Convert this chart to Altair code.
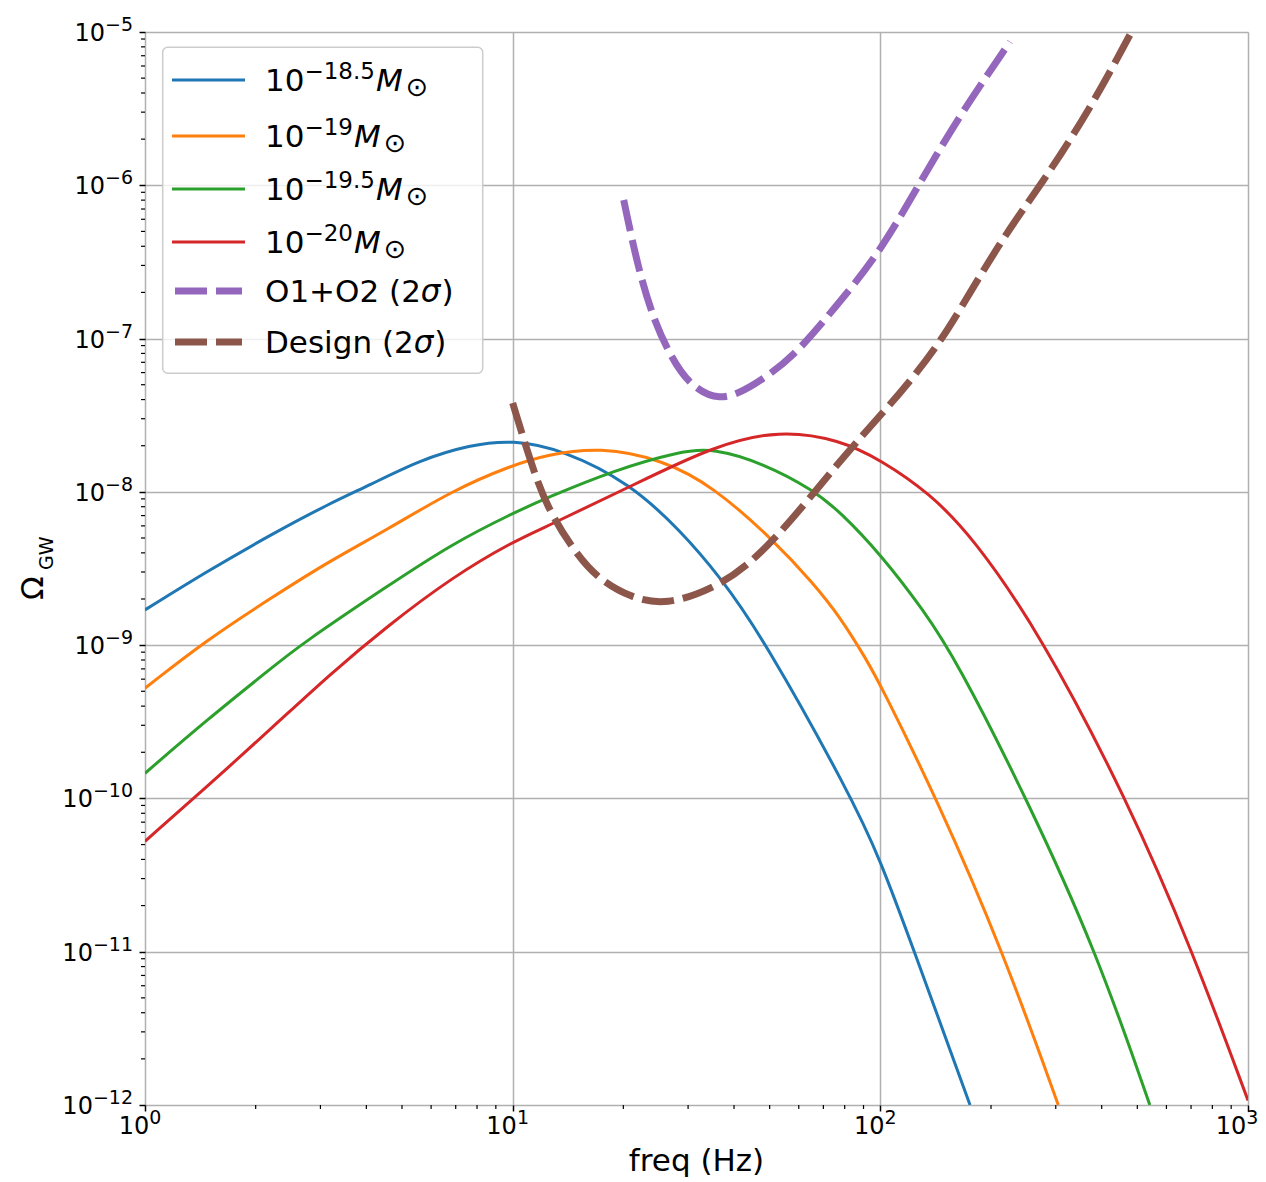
import altair as alt
import numpy as np
import pandas as pd

FONT = "DejaVu Sans"

# ---- data (log10 of frequency [Hz], log10 of Omega_GW) ----
blue_logf = [0.0, 0.168, 0.349, 0.503, 0.612, 0.748, 0.884, 1.0, 1.138, 1.319, 1.455, 1.564, 1.682, 1.917, 2.0, 2.085, 2.244]
blue_logO = [-8.77, -8.52, -8.27, -8.075, -7.955, -7.792, -7.694, -7.66, -7.727, -7.944, -8.249, -8.553, -8.955, -9.97, -10.40, -10.95, -12.0]

orange_logf = [0.0, 0.168, 0.349, 0.503, 0.657, 0.838, 1.0, 1.092, 1.237, 1.410, 1.546, 1.709, 1.818, 1.890, 1.963, 2.0, 2.153, 2.334, 2.484]
orange_logO = [-9.281, -8.966, -8.683, -8.45, -8.249, -7.988, -7.825, -7.759, -7.706, -7.792, -7.966, -8.314, -8.597, -8.814, -9.097, -9.257, -10.0, -11.0, -12.0]

green_logf = [0.0, 0.168, 0.349, 0.422, 0.657, 0.838, 1.0, 1.092, 1.274, 1.455, 1.546, 1.682, 1.818, 1.890, 2.0, 2.117, 2.207, 2.398, 2.588, 2.733]
green_logO = [-9.836, -9.488, -9.140, -8.999, -8.618, -8.335, -8.14, -8.04, -7.86, -7.735, -7.715, -7.814, -7.988, -8.130, -8.405, -8.77, -9.10, -10.0, -11.0, -12.0]

red_logf = [0.0, 0.168, 0.349, 0.503, 0.657, 0.838, 1.0, 1.092, 1.319, 1.546, 1.727, 1.890, 2.0, 2.135, 2.253, 2.434, 2.670, 2.850, 3.0]
red_logO = [-10.28, -9.923, -9.532, -9.19, -8.879, -8.553, -8.325, -8.227, -7.966, -7.700, -7.595, -7.661, -7.790, -8.01, -8.30, -8.923, -10.0, -11.0, -11.97]

o1o2_logf = [1.302, 1.342, 1.387, 1.431, 1.476, 1.560, 1.655, 1.766, 1.878, 1.991, 2.102, 2.213, 2.353]
o1o2_logO = [-6.096, -6.553, -6.900, -7.118, -7.290, -7.42, -7.31, -7.118, -6.792, -6.466, -6.009, -5.553, -5.063]

design_logf = [1.0, 1.047, 1.092, 1.165, 1.228, 1.319, 1.419, 1.546, 1.636, 1.727, 1.818, 1.908, 2.0, 2.071, 2.170, 2.236, 2.348, 2.436, 2.569, 2.683]
design_logO = [-7.42, -7.792, -8.097, -8.379, -8.56, -8.69, -8.74, -8.63, -8.488, -8.271, -8.010, -7.749, -7.50, -7.31, -7.0, -6.73, -6.29, -6.0, -5.51, -5.0]

series_colors = ["#1f77b4", "#ff7f0e", "#2ca02c", "#d62728", "#9467bd", "#8c564b"]
mass_exponents = ["\u221218.5", "\u221219", "\u221219.5", "\u221220"]
dashed_labels = [("O1+O2 (2", "\u03c3", ")"), ("Design (2", "\u03c3", ")")]

x_major = [1, 10, 100, 1000]
x_exp_labels = ["0", "1", "2", "3"]
y_major_exp = [-5, -6, -7, -8, -9, -10, -11, -12]

# ---- layout ----
W, H = 1103, 1073
XS = alt.Scale(type="log", domain=[1, 1000], nice=False)
YS = alt.Scale(type="log", domain=[1e-12, 1e-5], nice=False)
AX_X = alt.Axis(values=x_major, labels=False, title=None, domain=False, ticks=True,
                tickSize=6, tickWidth=1.5, tickColor="black",
                grid=True, gridColor="#b0b0b0", gridWidth=1.5)
AX_Y = alt.Axis(values=[10.0 ** e for e in y_major_exp], labels=False, title=None, domain=False,
                ticks=True, tickSize=6, tickWidth=1.5, tickColor="black",
                grid=True, gridColor="#b0b0b0", gridWidth=1.5)

# DejaVu Sans advance widths (em)
ADV = {"\u2212": 0.838, ".": 0.318, "O": 0.787, "+": 0.838, " ": 0.318, "(": 0.390, ")": 0.390,
       "D": 0.770, "e": 0.615, "s": 0.521, "i": 0.278, "g": 0.635, "n": 0.634}


def text_width(s, fs):
    return sum(ADV.get(ch, 0.636) for ch in s) * fs


def X(field="freq"):
    return alt.X(f"{field}:Q", scale=XS, axis=AX_X)


def Y(field="omega"):
    return alt.Y(f"{field}:Q", scale=YS, axis=AX_Y)


def curve(logf, logO, color, dashed=False):
    df = pd.DataFrame({"freq": 10.0 ** np.array(logf), "omega": 10.0 ** np.array(logO)})
    if dashed:
        m = alt.Chart(df).mark_line(interpolate="basis", color=color, strokeWidth=7,
                                    strokeDash=[32, 9], strokeCap="butt", clip=True)
    else:
        m = alt.Chart(df).mark_line(interpolate="basis", color=color, strokeWidth=3,
                                    strokeJoin="round", clip=True)
    return m.encode(x=X(), y=Y())


def one(t=""):
    return pd.DataFrame({"t": [t]})


def text_at(t, x, y, size, align="left", baseline="alphabetic", style="normal", angle=0):
    return alt.Chart(one(t)).mark_text(
        align=align, baseline=baseline, fontSize=size, font=FONT, fontStyle=style,
        angle=angle, color="black").encode(x=alt.value(x), y=alt.value(y), text="t:N")


layers = []
all_curves = [(blue_logf, blue_logO), (orange_logf, orange_logO), (green_logf, green_logO),
              (red_logf, red_logO)]
for (lf, lo), c in zip(all_curves, series_colors[:4]):
    layers.append(curve(lf, lo, c))
layers.append(curve(o1o2_logf, o1o2_logO, series_colors[4], dashed=True))
layers.append(curve(design_logf, design_logO, series_colors[5], dashed=True))

# minor ticks
y_minor = [k * 10.0 ** e for e in range(-12, -5) for k in range(2, 10)]
x_minor = [k * 10.0 ** e for e in range(0, 3) for k in range(2, 10)]
layers.append(alt.Chart(pd.DataFrame({"omega": y_minor})).mark_rule(color="black", strokeWidth=1.2)
              .encode(y=Y(), x=alt.value(-4), x2=alt.value(0)))
layers.append(alt.Chart(pd.DataFrame({"freq": x_minor})).mark_rule(color="black", strokeWidth=1.2)
              .encode(x=X(), y=alt.value(H), y2=alt.value(H + 4)))

# y tick labels: "10" + superscript exponent
TICK_FS, SUP_FS = 24, 19
for group in ([e for e in y_major_exp if e > -10], [e for e in y_major_exp if e <= -10]):
    labs = ["\u2212" + str(-e) for e in group]
    df = pd.DataFrame({"omega": [10.0 ** e for e in group], "exp": labs})
    wexp = text_width(labs[0], SUP_FS)
    layers.append(alt.Chart(df).mark_text(align="right", baseline="alphabetic", dy=9,
                                          fontSize=TICK_FS, font=FONT, color="black")
                  .encode(y=Y(), x=alt.value(-12 - wexp), text=alt.value("10")))
    layers.append(alt.Chart(df).mark_text(align="right", baseline="alphabetic", dy=-1,
                                          fontSize=SUP_FS, font=FONT, color="black")
                  .encode(y=Y(), x=alt.value(-12), text="exp:N"))

# x tick labels (the last one nudged left so it stays inside the page)
w10 = 1.272 * TICK_FS
wtot = w10 + text_width("0", SUP_FS)
for sl, extra in ((slice(0, 3), 0), (slice(3, 4), -6)):
    dfx = pd.DataFrame({"freq": x_major[sl], "exp": x_exp_labels[sl]})
    shift = w10 - wtot / 2 - 5 + extra
    layers.append(alt.Chart(dfx).mark_text(align="right", baseline="alphabetic", dx=shift,
                                           fontSize=TICK_FS, font=FONT, color="black")
                  .encode(x=X(), y=alt.value(H + 28.5), text=alt.value("10")))
    layers.append(alt.Chart(dfx).mark_text(align="left", baseline="alphabetic", dx=shift,
                                           fontSize=SUP_FS, font=FONT, color="black")
                  .encode(x=X(), y=alt.value(H + 18.5), text="exp:N"))

# axis titles
layers.append(text_at("freq (Hz)", W / 2, H + 66, 31, align="center"))
layers.append(text_at("\u03a9", -102, 568, 31, angle=270))
layers.append(text_at("GW", -92, 538, 19, angle=270))

# legend
layers.append(alt.Chart(one()).mark_rect(cornerRadius=5, fill="white", fillOpacity=0.8,
                                         stroke="#cccccc", strokeWidth=1.5)
              .encode(x=alt.value(17.7), x2=alt.value(337.7), y=alt.value(15.3), y2=alt.value(341.3)))
row_y = [48, 104, 157, 210, 259, 310]
LEG_FS, LEG_SUP = 31, 23
TX = 120
for i in range(6):
    yy = row_y[i]
    base = yy + 11
    if i < 4:
        layers.append(alt.Chart(one()).mark_rule(color=series_colors[i], strokeWidth=3)
                      .encode(x=alt.value(27), x2=alt.value(100), y=alt.value(yy)))
        layers.append(text_at("10", TX, base, LEG_FS))
        sx = TX + 1.272 * LEG_FS
        layers.append(text_at(mass_exponents[i], sx, base - 12, LEG_SUP))
        mx = sx + text_width(mass_exponents[i], LEG_SUP) + 1
        layers.append(text_at("M", mx, base, LEG_FS, style="italic"))
        layers.append(text_at("\u2299", mx + 0.863 * LEG_FS + 3, base + 5, 27))
    else:
        layers.append(alt.Chart(one()).mark_rule(color=series_colors[i], strokeWidth=7,
                                                 strokeDash=[32, 9], strokeCap="butt")
                      .encode(x=alt.value(30), x2=alt.value(97), y=alt.value(yy)))
        a, sig, b = dashed_labels[i - 4]
        layers.append(text_at(a, TX, base, LEG_FS))
        sgx = TX + text_width(a, LEG_FS)
        layers.append(text_at(sig, sgx, base, LEG_FS, style="italic"))
        layers.append(text_at(b, sgx + 0.634 * LEG_FS + 1, base, LEG_FS))

chart = alt.layer(*layers).properties(
    width=W, height=H,
    padding={"left": 137, "top": 24, "right": 10, "bottom": 78},
    autosize=alt.AutoSizeParams(type="none"),
).configure_view(stroke="black", strokeWidth=2).configure(background="white")

chart.save("out.html", embed_options={"renderer": "svg", "actions": False})
